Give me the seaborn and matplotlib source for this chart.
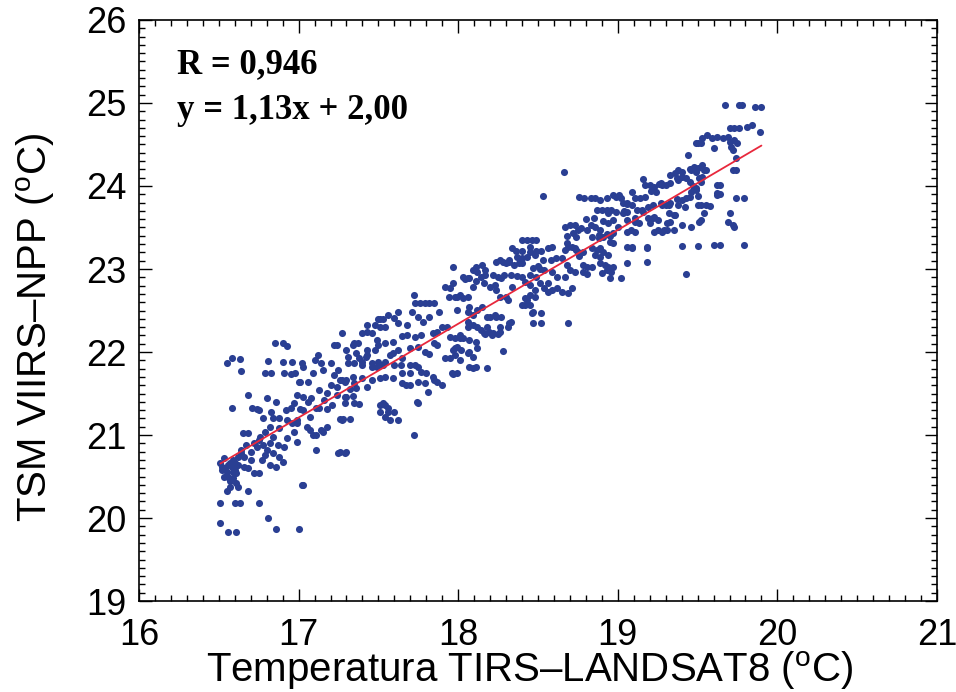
import numpy as np
import pandas as pd
import seaborn as sns
import matplotlib.pyplot as plt
from matplotlib.ticker import MultipleLocator

# points, grouped in bands along the x axis
# (Temperatura TIRS-LANDSAT8, TSM VIIRS-NPP), both in degrees C
band_1650 = [
    (16.51, 20.66), (16.55, 20.55), (16.58, 20.62), (16.60, 20.58), (16.56, 20.50),
    (16.59, 20.48), (16.54, 20.60), (16.57, 20.66), (16.61, 20.54), (16.53, 20.72),
    (16.62, 20.64), (16.57, 20.44), (16.61, 20.42), (16.62, 20.37), (16.55, 20.33),
    (16.57, 20.37), (16.68, 20.33), (16.51, 20.18), (16.60, 20.18), (16.63, 20.18),
    (16.51, 19.94), (16.56, 19.83), (16.61, 19.83), (16.58, 21.33), (16.55, 21.87),
    (16.58, 21.93), (16.63, 21.92), (16.64, 21.77), (16.68, 21.48), (16.62, 20.73),
    (16.66, 20.61), (16.68, 20.60), (16.75, 20.54), (16.72, 20.54), (16.65, 21.02),
    (16.68, 21.02), (16.71, 21.33), (16.74, 21.31), (16.64, 20.82), (16.67, 20.88),
    (16.70, 20.80), (16.72, 20.90), (16.74, 20.86), (16.70, 20.70), (16.66, 20.74),
    (16.75, 20.18), (16.52, 20.58), (16.53, 20.49), (16.59, 20.70), (16.64, 20.78),
    (16.56, 20.64), (16.59, 20.56), (16.52, 20.62), (16.60, 20.66),
]
band_1675 = [
    (16.75, 20.94), (16.78, 20.88), (16.82, 20.90), (16.87, 20.88), (16.80, 20.82),
    (16.84, 20.78), (16.88, 20.73), (16.90, 20.67), (16.77, 20.70), (16.82, 20.64),
    (16.86, 20.62), (16.79, 20.76), (16.78, 21.20), (16.84, 21.20), (16.88, 21.20),
    (16.93, 21.18), (16.99, 21.18), (16.82, 21.10), (16.88, 21.08), (16.79, 21.04),
    (16.85, 22.11), (16.90, 22.11), (16.93, 22.07), (16.81, 21.89), (16.90, 21.88),
    (16.96, 21.88), (17.02, 21.87), (16.79, 21.75), (16.83, 21.75), (16.91, 21.75),
    (16.95, 21.74), (16.98, 21.75), (17.00, 21.64), (17.06, 21.64), (16.75, 21.30),
    (16.81, 20.00), (16.86, 19.87), (17.00, 19.87), (17.02, 20.40), (16.92, 21.30),
    (16.97, 21.38), (16.86, 21.40), (16.80, 21.44), (16.93, 20.96), (16.97, 21.04),
    (16.99, 20.92), (16.84, 20.98), (16.91, 20.86), (16.76, 20.98), (16.83, 21.28),
]
band_1700 = [
    (17.12, 21.96), (17.22, 22.08), (17.24, 22.08), (17.27, 22.23), (17.14, 21.87),
    (17.20, 21.87), (17.03, 21.82), (17.01, 21.64), (17.09, 21.75), (17.15, 21.78),
    (17.25, 21.78), (16.99, 21.48), (17.03, 21.46), (17.08, 21.45), (17.13, 21.54),
    (17.20, 21.60), (17.24, 21.58), (17.18, 21.51), (17.24, 21.48), (17.29, 21.46),
    (16.95, 21.33), (17.01, 21.31), (17.03, 21.30), (17.11, 21.33), (17.13, 21.33),
    (17.18, 21.31), (17.07, 21.22), (16.96, 21.14), (16.99, 21.14), (17.05, 21.10),
    (17.07, 21.06), (17.14, 21.06), (17.15, 21.04), (17.09, 21.00), (17.11, 21.00),
    (17.18, 21.10), (17.26, 21.19), (17.28, 21.19), (17.32, 21.19), (17.25, 20.78),
    (17.29, 20.78), (17.11, 20.82), (17.03, 20.40), (17.27, 21.66), (17.30, 21.66),
    (17.22, 21.72), (17.10, 21.90), (17.06, 21.40), (17.16, 21.42), (17.21, 21.36),
]
band_1730 = [
    (17.31, 21.87), (17.35, 21.87), (17.40, 21.88), (17.34, 22.08), (17.40, 22.23),
    (17.46, 22.23), (17.49, 22.14), (17.51, 22.30), (17.56, 22.45), (17.51, 22.40),
    (17.53, 22.40), (17.36, 21.99), (17.43, 21.96), (17.40, 21.84), (17.46, 21.82),
    (17.49, 21.82), (17.53, 21.84), (17.34, 21.70), (17.40, 21.69), (17.46, 21.66),
    (17.51, 21.69), (17.32, 21.55), (17.36, 21.57), (17.43, 21.58), (17.30, 21.46),
    (17.34, 21.47), (17.51, 21.36), (17.54, 21.36), (17.56, 21.33), (17.51, 21.28),
    (17.56, 21.28), (17.57, 21.18), (17.62, 21.18), (17.60, 21.28), (17.30, 22.02),
    (17.35, 22.11), (17.37, 22.11), (17.31, 21.94), (17.26, 21.66), (17.29, 21.64),
    (17.35, 21.63), (17.29, 21.39), (17.35, 21.39), (17.38, 21.37), (17.27, 21.18),
    (17.26, 20.80), (17.30, 20.80), (17.53, 21.39), (17.54, 21.22), (17.72, 21.00),
    (17.75, 21.38), (17.43, 22.24), (17.50, 22.40), (17.43, 22.33), (17.48, 22.33),
    (17.54, 22.30), (17.60, 22.41), (17.62, 22.35), (17.62, 22.48), (17.43, 22.02),
    (17.48, 22.02), (17.38, 21.93), (17.42, 21.94), (17.46, 21.87), (17.50, 21.88),
    (17.54, 21.88), (17.50, 22.08), (17.54, 22.11), (17.59, 22.12), (17.57, 21.96),
]
band_1760 = [
    (17.65, 22.19), (17.68, 22.20), (17.59, 21.99), (17.65, 21.93), (17.60, 21.84),
    (17.64, 21.84), (17.70, 21.84), (17.73, 21.84), (17.75, 21.82), (17.79, 22.00),
    (17.82, 21.98), (17.75, 22.06), (17.85, 22.11), (17.87, 22.08), (17.73, 22.18),
    (17.77, 22.20), (17.84, 22.23), (17.87, 22.24), (17.90, 22.30), (17.93, 22.30),
    (17.95, 22.18), (17.98, 22.17), (18.01, 22.17), (17.98, 22.05), (18.02, 22.02),
    (17.92, 21.93), (17.95, 21.93), (17.72, 22.69), (17.73, 22.59), (17.76, 22.59),
    (17.79, 22.59), (17.82, 22.59), (17.85, 22.59), (17.71, 22.48), (17.75, 22.42),
    (17.92, 22.78), (17.95, 22.77), (17.97, 22.83), (17.94, 22.66), (17.98, 22.66),
    (17.65, 21.75), (17.70, 21.75), (17.77, 21.76), (17.80, 21.75), (17.84, 21.70),
    (17.85, 21.66), (17.87, 21.64), (17.75, 21.64), (17.79, 21.63), (17.67, 21.60),
    (17.70, 21.60), (17.90, 21.60), (17.96, 21.75), (17.99, 21.75), (17.81, 21.52),
    (17.74, 21.40), (17.65, 21.63), (17.54, 21.70), (17.59, 21.69), (17.68, 22.33),
    (17.78, 22.36), (17.82, 22.42), (17.88, 22.48), (17.62, 22.02), (17.70, 22.05),
]
band_1795 = [
    (17.97, 22.02), (17.99, 22.06), (17.98, 21.96), (18.07, 22.00), (18.12, 22.05),
    (18.28, 22.01), (18.09, 21.81), (18.18, 21.81), (17.97, 21.73), (18.01, 21.90),
    (18.22, 22.23), (18.26, 22.24), (18.16, 22.23), (18.19, 22.24), (18.06, 22.30),
    (18.09, 22.33), (18.14, 22.27), (18.01, 22.20), (18.03, 22.17), (18.20, 22.42),
    (18.24, 22.42), (18.27, 22.42), (18.18, 22.30), (18.32, 22.35), (17.99, 22.66),
    (18.03, 22.65), (18.06, 22.66), (18.12, 22.51), (18.15, 22.54), (17.99, 22.51),
    (18.07, 22.54), (18.16, 22.83), (18.20, 22.78), (18.24, 22.75), (18.14, 22.90),
    (18.17, 22.93), (18.11, 23.02), (18.15, 23.05), (18.22, 22.93), (18.27, 22.89),
    (17.97, 23.02), (18.03, 22.90), (18.09, 22.78), (18.30, 22.66), (18.31, 22.63),
    (18.34, 22.78), (18.26, 22.66), (18.04, 22.88), (18.07, 22.89), (18.11, 22.85),
    (18.23, 22.81), (18.25, 22.90), (18.29, 22.93), (18.33, 22.93), (18.24, 23.08),
    (18.28, 23.08), (18.32, 23.08), (18.17, 22.99), (18.09, 22.99), (18.12, 22.96),
    (18.06, 22.48), (18.09, 22.45), (18.06, 22.36), (18.12, 22.30), (18.17, 22.22),
    (18.21, 22.20), (18.25, 22.22), (18.26, 22.30), (18.31, 22.30), (18.33, 22.36),
    (18.18, 22.42), (18.23, 22.45), (18.07, 22.15), (18.11, 22.12), (18.06, 21.99),
    (18.09, 21.94), (18.07, 21.82), (18.11, 21.82), (18.01, 22.69), (18.06, 22.89),
]
band_1830 = [
    (18.35, 23.05), (18.38, 23.07), (18.40, 23.07), (18.37, 23.14), (18.40, 23.13),
    (18.43, 23.14), (18.49, 23.22), (18.52, 23.22), (18.56, 23.25), (18.59, 23.27),
    (18.61, 23.13), (18.65, 23.13), (18.67, 23.23), (18.69, 23.27), (18.51, 23.00),
    (18.54, 22.99), (18.59, 22.96), (18.45, 22.93), (18.49, 22.90), (18.42, 22.84),
    (18.45, 22.81), (18.45, 22.69), (18.48, 22.66), (18.42, 22.65), (18.43, 22.63),
    (18.48, 22.75), (18.54, 22.77), (18.59, 22.75), (18.62, 22.77), (18.65, 22.72),
    (18.69, 22.71), (18.71, 22.77), (18.47, 22.48), (18.52, 22.47), (18.47, 22.35),
    (18.52, 22.35), (18.69, 22.35), (18.62, 22.90), (18.67, 22.90), (18.40, 22.57),
    (18.42, 22.57), (18.45, 22.57), (18.46, 22.47), (18.51, 22.83), (18.56, 22.83),
    (18.56, 22.72), (18.37, 22.92), (18.40, 22.90), (18.47, 23.01), (18.50, 23.04),
    (18.45, 23.20), (18.48, 23.17), (18.53, 23.11), (18.58, 23.11), (18.36, 23.22),
    (18.40, 23.22), (18.45, 23.27), (18.34, 23.25), (18.40, 23.35), (18.43, 23.35),
    (18.46, 23.35), (18.49, 23.35), (18.32, 23.11), (18.30, 23.07), (18.26, 23.11),
    (18.66, 24.17), (18.53, 23.88), (18.67, 23.50), (18.70, 23.53), (18.73, 23.53),
    (18.75, 23.47), (18.68, 23.40), (18.72, 23.43), (18.68, 23.31), (18.71, 23.27),
    (18.74, 23.23), (18.68, 23.05), (18.70, 22.99), (18.73, 22.96),
]
band_1870 = [
    (18.77, 23.49), (18.81, 23.47), (18.83, 23.53), (18.86, 23.51), (18.89, 23.47),
    (18.74, 23.39), (18.84, 23.39), (18.88, 23.37), (18.95, 23.40), (18.97, 23.43),
    (18.87, 23.71), (18.90, 23.71), (18.93, 23.71), (18.96, 23.71), (18.99, 23.69),
    (19.03, 23.67), (19.03, 23.80), (19.06, 23.80), (18.99, 23.87), (19.01, 23.89),
    (18.76, 23.87), (18.79, 23.86), (18.83, 23.86), (18.86, 23.85), (18.89, 23.83),
    (18.93, 23.86), (18.97, 23.89), (19.09, 23.93), (18.75, 23.20), (18.78, 23.20),
    (18.78, 23.05), (18.81, 23.03), (18.84, 23.02), (18.78, 22.96), (18.81, 22.94),
    (18.89, 23.07), (18.92, 23.05), (18.93, 22.99), (18.96, 22.96), (18.87, 23.23),
    (18.91, 23.20), (18.95, 23.32), (18.97, 23.31), (19.02, 22.89), (19.06, 23.07),
    (19.09, 23.25), (18.73, 23.25), (18.86, 23.17), (18.89, 23.14), (18.76, 23.16),
    (18.84, 23.25), (18.89, 23.25), (18.94, 23.67), (18.97, 23.59), (18.94, 23.55),
    (19.00, 23.51), (18.88, 23.41), (18.91, 23.39), (18.93, 23.42), (18.94, 23.17),
    (18.94, 23.02), (18.97, 23.02), (18.90, 22.95), (18.95, 22.89), (18.80, 23.60),
    (18.85, 23.62), (18.91, 23.58),
]
band_1905 = [
    (19.14, 23.86), (19.17, 23.87), (19.12, 23.71), (19.16, 23.69), (19.19, 23.61),
    (19.22, 23.61), (19.25, 23.59), (19.11, 23.61), (19.13, 23.55), (19.08, 23.47),
    (19.11, 23.45), (19.25, 23.47), (19.28, 23.45), (19.31, 23.47), (19.20, 23.55),
    (19.31, 23.55), (19.33, 23.57), (19.32, 23.67), (19.36, 23.65), (19.28, 23.77),
    (19.32, 23.77), (19.38, 23.77), (19.42, 23.75), (19.17, 24.01), (19.20, 24.01),
    (19.23, 23.99), (19.26, 24.02), (19.28, 24.01), (19.16, 24.08), (19.33, 24.13),
    (19.36, 24.16), (19.38, 24.19), (19.40, 24.17), (19.18, 23.25), (19.18, 23.08),
    (19.06, 23.45), (19.21, 23.94), (19.24, 23.93), (19.27, 24.04), (19.30, 24.01),
    (19.33, 24.04), (19.11, 23.86), (19.02, 23.86), (19.06, 23.78), (19.09, 23.77),
    (19.04, 23.70), (19.06, 23.69), (19.15, 23.71), (19.19, 23.75), (19.22, 23.77),
    (19.27, 23.80), (19.30, 23.77), (19.33, 23.80), (19.37, 23.84), (19.40, 23.83),
    (19.43, 23.86), (19.45, 23.87), (19.35, 23.65), (19.23, 23.63), (19.06, 23.59),
    (19.11, 23.57), (19.23, 23.45), (19.29, 23.47), (19.35, 23.47), (19.40, 23.53),
    (19.46, 23.51), (19.52, 23.59), (19.06, 23.27), (19.09, 23.27), (19.18, 23.27),
    (19.40, 23.28), (19.43, 22.94),
]
band_1945 = [
    (19.44, 24.37), (19.50, 24.52), (19.53, 24.58), (19.37, 24.10), (19.40, 24.11),
    (19.43, 24.10), (19.38, 24.07), (19.46, 24.19), (19.49, 24.17), (19.54, 24.19),
    (19.45, 24.21), (19.48, 24.23), (19.50, 24.22), (19.53, 24.25), (19.46, 23.93),
    (19.49, 23.95), (19.52, 24.05), (19.45, 24.05), (19.47, 24.00), (19.49, 23.98),
    (19.50, 23.88), (19.51, 24.10), (19.53, 24.11), (19.55, 24.19),
]
band_1960 = [
    (19.67, 24.98), (19.76, 24.98), (19.78, 24.98), (19.86, 24.95), (19.90, 24.95),
    (19.70, 24.70), (19.73, 24.70), (19.76, 24.70), (19.81, 24.71), (19.84, 24.73),
    (19.89, 24.65), (19.56, 24.61), (19.59, 24.58), (19.62, 24.59), (19.66, 24.58),
    (19.69, 24.59), (19.70, 24.53), (19.73, 24.55), (19.75, 24.52), (19.49, 24.52),
    (19.52, 24.52), (19.60, 24.46), (19.71, 24.47), (19.72, 24.43), (19.74, 24.34),
    (19.72, 24.19), (19.74, 24.19), (19.62, 23.92), (19.64, 23.90), (19.64, 24.01),
    (19.74, 23.86), (19.79, 23.86), (19.50, 23.77), (19.52, 23.77), (19.55, 23.77),
    (19.58, 23.76), (19.54, 23.67), (19.70, 23.67), (19.51, 23.57), (19.69, 23.57),
    (19.72, 23.53), (19.73, 23.50), (19.50, 23.28), (19.60, 23.29), (19.64, 23.29),
    (19.79, 23.29), (19.62, 24.01), (19.62, 23.89),
]

fit_slope = 1.13
fit_intercept = 2.00
label_r = 'R = 0,946'
label_eq = 'y = 1,13x + 2,00'

bands = [band_1650, band_1675, band_1700, band_1730, band_1760, band_1795,
         band_1830, band_1870, band_1905, band_1945, band_1960]
df = pd.DataFrame(np.concatenate(bands), columns=['landsat', 'viirs'])

xfit = np.array([df['landsat'].min(), df['landsat'].max()])
fit = pd.DataFrame({'x': xfit, 'y': fit_slope * xfit + fit_intercept})

sns.set_style('ticks')
plt.rcParams['font.family'] = ['Liberation Sans', 'DejaVu Sans']
plt.rcParams['mathtext.fontset'] = 'custom'
plt.rcParams['mathtext.rm'] = 'Liberation Sans'
plt.rcParams['text.color'] = 'black'
plt.rcParams['axes.labelcolor'] = 'black'
plt.rcParams['xtick.color'] = 'black'
plt.rcParams['ytick.color'] = 'black'

fig = plt.figure(figsize=(9.56, 6.92), dpi=100)
ax = fig.add_axes([0.1454, 0.1315, 0.8347, 0.8396])

sns.scatterplot(x='landsat', y='viirs', data=df, color='#2a3f93', s=26,
                linewidth=0, ax=ax)
sns.lineplot(x='x', y='y', data=fit, color='#e8283c', linewidth=1.3, ax=ax)

ax.set_xlim(16, 21)
ax.set_ylim(19, 26)
ax.xaxis.set_major_locator(MultipleLocator(1))
ax.xaxis.set_minor_locator(MultipleLocator(0.1))
ax.yaxis.set_major_locator(MultipleLocator(1))
ax.yaxis.set_minor_locator(MultipleLocator(0.1))
ax.tick_params(which='both', direction='in', top=True, right=True,
               color='black', labelcolor='black', width=1.0)
ax.tick_params(which='major', length=9, labelsize=26)
ax.tick_params(which='minor', length=4)
ax.tick_params(axis='x', which='major', pad=12)
ax.tick_params(axis='y', which='major', pad=9)
for sp in ax.spines.values():
    sp.set_linewidth(1.2)
    sp.set_color('black')

deg = r'($^{\mathrm{o}}$C)'
ax.set_xlabel('Temperatura TIRS\u2013LANDSAT8 ' + deg, fontsize=29, color='black')
ax.set_ylabel('TSM VIIRS\u2013NPP ' + deg, fontsize=29, color='black')
ax.xaxis.label.set_va('baseline')
ax.yaxis.label.set_va('baseline')
ax.xaxis.set_label_coords(0.49, -0.140)
ax.yaxis.set_label_coords(-0.115, 0.4707)

ax.text(0.0476, 0.909, label_r, transform=ax.transAxes, fontsize=25, color='black',
        fontweight='bold', family='Liberation Serif', va='baseline')
ax.text(0.0476, 0.830, label_eq, transform=ax.transAxes, fontsize=25, color='black',
        fontweight='bold', family='Liberation Serif', va='baseline')

fig.savefig('out.png', dpi=100)
